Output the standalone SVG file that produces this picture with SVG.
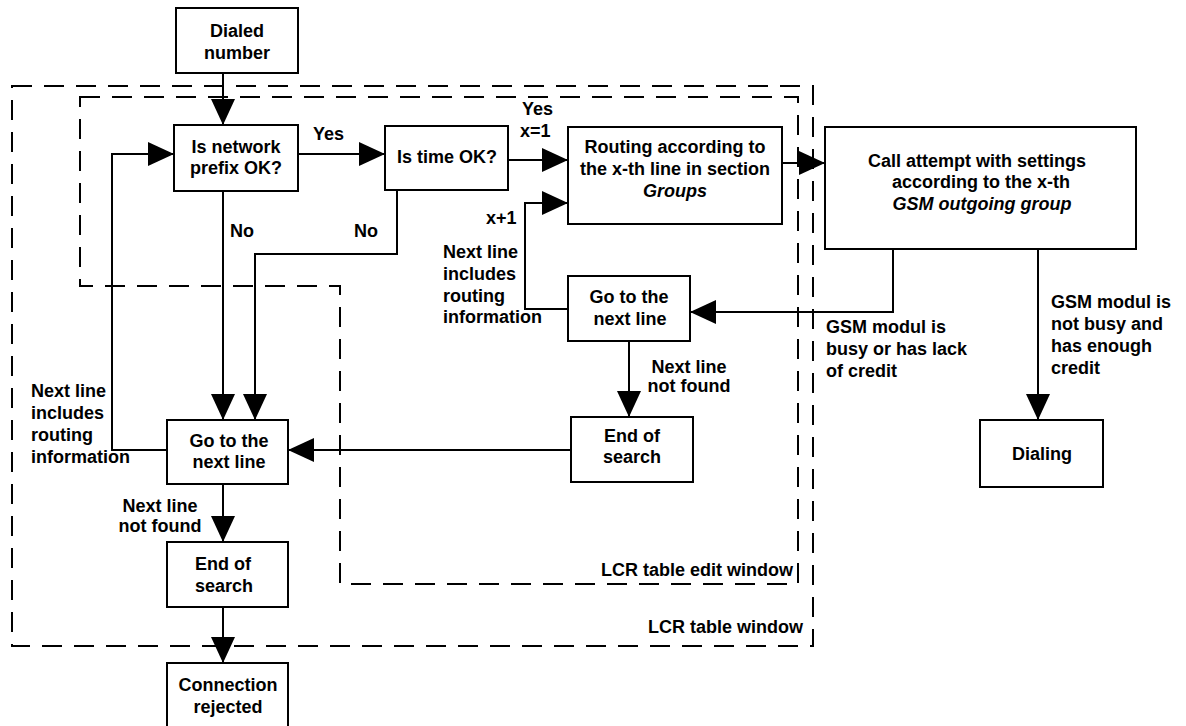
<svg xmlns="http://www.w3.org/2000/svg" width="1186" height="726" viewBox="0 0 1186 726">
<defs>
<style>
.box{fill:#fff;stroke:#000;stroke-width:2}
.ln{fill:none;stroke:#000;stroke-width:2}
.ar{fill:none;stroke:#000;stroke-width:2;marker-end:url(#ah)}
.dash{fill:none;stroke:#000;stroke-width:2;stroke-dasharray:20 12}
text{font-family:"Liberation Sans",Arial,sans-serif;font-size:18px;font-weight:bold;fill:#000}
.c{text-anchor:middle}
.e{text-anchor:end}
.i{font-style:italic}
</style>
<marker id="ah" viewBox="0 0 26 24" refX="26" refY="12" markerWidth="26" markerHeight="24" markerUnits="userSpaceOnUse" orient="auto">
<path d="M0,0 L26,12 L0,24 Z" fill="#000"/>
</marker>
</defs>
<rect width="1186" height="726" fill="#fff"/>

<g id="regions">
<rect class="dash" x="12" y="86" width="801" height="560"/>
<polygon class="dash" points="80,97 798,97 798,584 340,584 340,286 80,286"/>
<text class="e" x="793" y="576">LCR table edit window</text>
<text class="e" x="803" y="633">LCR table window</text>
</g>

<g id="connectors">
<path class="ar" d="M223,73 V125"/>
<path class="ar" d="M298,154 H385"/>
<path class="ar" d="M508,160 H568"/>
<path class="ar" d="M782,163 H825"/>
<path class="ar" d="M223,191 V420"/>
<path class="ar" d="M397,190 V254 H255 V420"/>
<path class="ar" d="M167,450 H112 V154 H174"/>
<path class="ar" d="M893,249 V312 H690"/>
<path class="ar" d="M1038,249 V420"/>
<path class="ar" d="M568,309 H525 V203 H568"/>
<path class="ar" d="M629,341 V417"/>
<path class="ar" d="M571,450 H288"/>
<path class="ar" d="M223,484 V542"/>
<path class="ar" d="M223,607 V663"/>
<text x="313" y="140">Yes</text>
<text x="522" y="115">Yes</text>
<text x="520" y="137">x=1</text>
<text x="230" y="237">No</text>
<text x="354" y="237">No</text>
<text x="486" y="224">x+1</text>
<text x="443" y="258">Next line</text>
<text x="443" y="280">includes</text>
<text x="443" y="302">routing</text>
<text x="443" y="323">information</text>
<text x="31" y="397">Next line</text>
<text x="31" y="419">includes</text>
<text x="31" y="441">routing</text>
<text x="31" y="463">information</text>
<text class="c" x="160" y="512">Next line</text>
<text class="c" x="160" y="532">not found</text>
<text class="c" x="689" y="373">Next line</text>
<text class="c" x="689" y="392">not found</text>
<text x="826" y="333">GSM modul is</text>
<text x="826" y="355">busy or has lack</text>
<text x="826" y="377">of credit</text>
<text x="1051" y="308">GSM modul is</text>
<text x="1051" y="330">not busy and</text>
<text x="1051" y="352">has enough</text>
<text x="1051" y="374">credit</text>
</g>

<g id="dialed">
<rect class="box" x="176" y="8" width="122" height="65"/>
<text class="c" x="237" y="37">Dialed</text>
<text class="c" x="237" y="59">number</text>
</g>
<g id="prefix">
<rect class="box" x="174" y="125" width="124" height="66"/>
<text class="c" x="236" y="153">Is network</text>
<text class="c" x="236" y="174">prefix OK?</text>
</g>
<g id="time">
<rect class="box" x="385" y="126" width="123" height="64"/>
<text class="c" x="447" y="163">Is time OK?</text>
</g>
<g id="routing">
<rect class="box" x="568" y="127" width="214" height="97"/>
<text class="c" x="675" y="153">Routing according to</text>
<text class="c" x="675" y="175">the x-th line in section</text>
<text class="c i" x="675" y="197">Groups</text>
</g>
<g id="call">
<rect class="box" x="825" y="127" width="311" height="122"/>
<text class="c" x="977" y="167">Call attempt with settings</text>
<text class="c" x="981" y="188">according to the x-th</text>
<text class="c i" x="982" y="210">GSM outgoing group</text>
</g>
<g id="goto1">
<rect class="box" x="568" y="276" width="122" height="65"/>
<text class="c" x="629" y="303">Go to the</text>
<text class="c" x="630" y="325">next line</text>
</g>
<g id="end1">
<rect class="box" x="571" y="417" width="122" height="65"/>
<text class="c" x="632" y="442">End of</text>
<text class="c" x="632" y="463">search</text>
</g>
<g id="goto2">
<rect class="box" x="167" y="420" width="121" height="64"/>
<text class="c" x="229" y="447">Go to the</text>
<text class="c" x="229" y="468">next line</text>
</g>
<g id="end2">
<rect class="box" x="167" y="542" width="121" height="65"/>
<text class="c" x="223" y="570">End of</text>
<text class="c" x="224" y="592">search</text>
</g>
<g id="rejected">
<rect class="box" x="167" y="663" width="121" height="70"/>
<text class="c" x="228" y="691">Connection</text>
<text class="c" x="228" y="713">rejected</text>
</g>
<g id="dialing">
<rect class="box" x="980" y="420" width="123" height="67"/>
<text class="c" x="1042" y="460">Dialing</text>
</g>
</svg>
